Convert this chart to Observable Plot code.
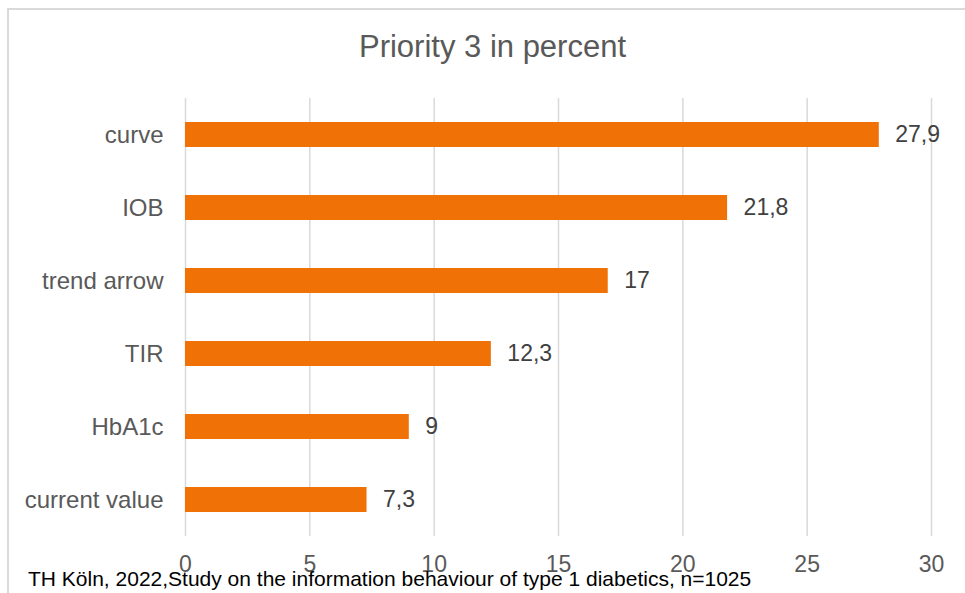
<!DOCTYPE html>
<html>
<head>
<meta charset="utf-8">
<script src="https://cdn.jsdelivr.net/npm/d3@7"></script>
<script src="https://cdn.jsdelivr.net/npm/@observablehq/plot@0.6"></script>
<style>
  html, body { margin: 0; padding: 0; background: #fff; }
  #wrap { position: relative; width: 965px; height: 593px; overflow: hidden; font-family: "Liberation Sans", Arial, sans-serif; }
  #frame { position: absolute; left: 7px; top: 8px; width: 1000px; height: 700px; border-left: 2px solid #d9d9d9; border-top: 2px solid #d9d9d9; box-sizing: border-box; }
  #title { position: absolute; left: 10px; width: 965px; top: 29px; text-align: center; font-size: 31px; line-height: 36px; color: #595959; }
  #chart { position: absolute; left: 0; top: 0; }
  #caption { position: absolute; left: 28px; top: 567px; font-size: 21px; line-height: 24px; color: #000; white-space: nowrap; }
</style>
</head>
<body>
<div id="wrap">
  <div id="frame"></div>
  <div id="title">Priority 3 in percent</div>
  <div id="chart"></div>
  <div id="caption">TH Köln, 2022,Study on the information behaviour of type 1 diabetics, n=1025</div>
</div>
<script>
const categories = ["curve", "IOB", "trend arrow", "TIR", "HbA1c", "current value"];
const values = [27.9, 21.8, 17, 12.3, 9, 7.3];
const xTicks = [0, 5, 10, 15, 20, 25, 30];

const data = categories.map((c, i) => ({label: c, value: values[i]}));
const fmt = v => String(v).replace(".", ",");

const chart = Plot.plot({
  width: 965,
  height: 593,
  marginLeft: 185,
  marginRight: 34,
  marginTop: 98,
  marginBottom: 57,
  style: { fontFamily: "'Liberation Sans', Arial, sans-serif", background: "transparent" },
  x: { domain: [0, 30], ticks: xTicks, label: null },
  y: { domain: categories, paddingInner: 0.66, paddingOuter: 0.33, label: null },
  marks: [
    Plot.gridX(xTicks, { stroke: "#d9d9d9", strokeOpacity: 1, strokeWidth: 1.5 }),
    Plot.barX(data, { x: "value", y: "label", fill: "#F07106" }),
    Plot.text(data, { x: "value", y: "label", text: d => fmt(d.value), dx: 16, textAnchor: "start", fontSize: 23, fill: "#404040" }),
    Plot.axisY({ tickSize: 0, tickPadding: 22, fontSize: 24, color: "#595959", label: null }),
    Plot.axisX({ ticks: xTicks, tickSize: 0, tickPadding: 19, fontSize: 23, color: "#595959", label: null })
  ]
});
document.getElementById("chart").appendChild(chart);
</script>
</body>
</html>
